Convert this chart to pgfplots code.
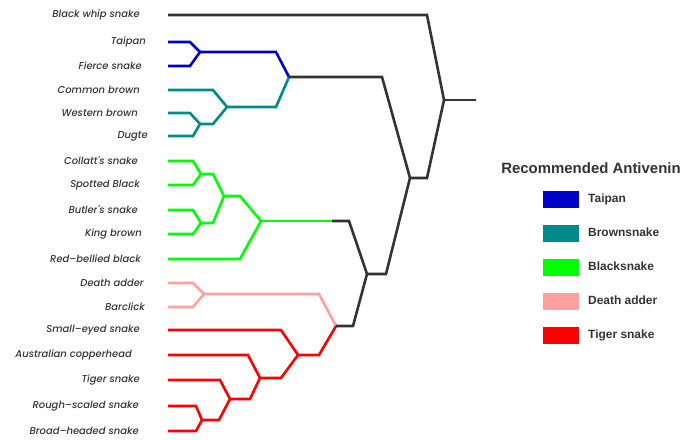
\documentclass[border=0pt]{standalone}
\usepackage{pgfplots}
\pgfplotsset{compat=1.18}
\usepackage{fontspec}
\setmainfont{Liberation Sans}
\newfontfamily\leaffont{Poppins Medium Italic}
\definecolor{dark}{HTML}{333333}
\definecolor{taipan}{HTML}{0000CC}
\definecolor{brownsnake}{HTML}{008B8B}
\definecolor{blacksnake}{HTML}{00FF00}
\definecolor{adder}{HTML}{FFA0A0}
\definecolor{tiger}{HTML}{FF0000}
\tikzset{leaf/.style={anchor=east, text=dark, inner sep=0pt,
  font=\leaffont\fontsize{10}{12}\selectfont}}
\begin{document}
\begin{tikzpicture}
\begin{axis}[
  name=ax,
  scale only axis, width=696bp, height=440bp,
  xmin=0, xmax=696, ymin=0, ymax=440, y dir=reverse,
  hide axis, clip=false,
  every axis plot/.append style={line width=2.6bp, line join=miter},
  legend image code/.code={\fill[#1, draw=none] (0bp,-8.5bp) rectangle (36bp,8.5bp);},
  legend style={at={(axis cs:543,190.5)}, anchor=north west, draw=none, fill=none,
    font=\bfseries\fontsize{12}{14}\selectfont, text=dark,
    row sep=17bp, column sep=6bp, inner sep=0pt,
    nodes={inner sep=3bp}},
  legend cell align=left,
]
% leaf labels
\node[leaf] at (axis cs:140,15) {Black whip snake};
\node[leaf] at (axis cs:146,42) {Taipan};
\node[leaf] at (axis cs:142,66) {Fierce snake};
\node[leaf] at (axis cs:140,90) {Common brown};
\node[leaf] at (axis cs:138,113) {Western brown};
\node[leaf] at (axis cs:148,136) {Dugte};
\node[leaf] at (axis cs:138,161) {Collatt's snake};
\node[leaf] at (axis cs:140,185) {Spotted Black};
\node[leaf] at (axis cs:138,210) {Butler's snake};
\node[leaf] at (axis cs:142,234) {King brown};
\node[leaf] at (axis cs:141,259) {Red–bellied black};
\node[leaf] at (axis cs:144,283) {Death adder};
\node[leaf] at (axis cs:145,307) {Barclick};
\node[leaf] at (axis cs:140,330) {Small–eyed snake};
\node[leaf] at (axis cs:132,355) {Australian copperhead};
\node[leaf] at (axis cs:140,380) {Tiger snake};
\node[leaf] at (axis cs:139,406) {Rough–scaled snake};
\node[leaf] at (axis cs:139,431) {Broad–headed snake};

% legend swatches
\addlegendimage{fill=taipan}\addlegendentry{Taipan}
\addlegendimage{fill=brownsnake}\addlegendentry{Brownsnake}
\addlegendimage{fill=blacksnake}\addlegendentry{Blacksnake}
\addlegendimage{fill=adder}\addlegendentry{Death adder}
\addlegendimage{fill=tiger}\addlegendentry{Tiger snake}

% Taipan clade
\addplot[taipan, forget plot] coordinates {(168,42)(190,42)(200,52)};
\addplot[taipan, forget plot] coordinates {(168,66)(190,66)(200,52)};
\addplot[taipan, forget plot] coordinates {(200,52)(276,52)(289,77)};
% Brownsnake clade
\addplot[brownsnake, forget plot] coordinates {(168,90)(213,90)(227,107)};
\addplot[brownsnake, forget plot] coordinates {(168,113)(190,113)(200,124)};
\addplot[brownsnake, forget plot] coordinates {(168,136)(193,136)(200,124)};
\addplot[brownsnake, forget plot] coordinates {(200,124)(213,124)(227,107)};
\addplot[brownsnake, forget plot] coordinates {(227,107)(276,107)(289,77)};
% Blacksnake clade
\addplot[blacksnake, forget plot] coordinates {(168,161)(193,161)(201,174)};
\addplot[blacksnake, forget plot] coordinates {(168,185)(193,185)(201,174)};
\addplot[blacksnake, forget plot] coordinates {(201,174)(213,174)(224,196)};
\addplot[blacksnake, forget plot] coordinates {(168,210)(193,210)(201,223)};
\addplot[blacksnake, forget plot] coordinates {(168,234)(193,234)(201,223)};
\addplot[blacksnake, forget plot] coordinates {(201,223)(213,223)(224,196)};
\addplot[blacksnake, forget plot] coordinates {(224,196)(240,196)(261,221)};
\addplot[blacksnake, forget plot] coordinates {(168,259)(240,259)(261,221)};
\addplot[blacksnake, forget plot] coordinates {(261,221)(333,221)};
% Death adder clade
\addplot[adder, forget plot] coordinates {(168,283)(193,283)(204,294)};
\addplot[adder, forget plot] coordinates {(168,307)(193,307)(204,294)};
\addplot[adder, forget plot] coordinates {(204,294)(319,294)(336,326)};
% Tiger snake clade
\addplot[tiger, forget plot] coordinates {(168,330)(281,330)(298,355)};
\addplot[tiger, forget plot] coordinates {(168,355)(248,355)(260,378)};
\addplot[tiger, forget plot] coordinates {(168,380)(220,380)(230,399)};
\addplot[tiger, forget plot] coordinates {(168,406)(196,406)(202,420)};
\addplot[tiger, forget plot] coordinates {(168,431)(196,431)(202,420)};
\addplot[tiger, forget plot] coordinates {(202,420)(219,420)(230,399)};
\addplot[tiger, forget plot] coordinates {(230,399)(250,399)(260,378)};
\addplot[tiger, forget plot] coordinates {(260,378)(281,378)(298,355)};
\addplot[tiger, forget plot] coordinates {(298,355)(319,355)(336,326)};
% backbone
\addplot[dark, forget plot] coordinates {(168,15)(427,15)(444,100)};
\addplot[dark, forget plot] coordinates {(289,77)(382,77)(410,178)};
\addplot[dark, forget plot] coordinates {(332,221)(349,221)(367,274)};
\addplot[dark, forget plot] coordinates {(336,326)(353,326)(367,274)};
\addplot[dark, forget plot] coordinates {(367,274)(386,274)(410,178)};
\addplot[dark, forget plot] coordinates {(410,178)(427,178)(444,100)};
\addplot[dark, forget plot] coordinates {(444,100)(476,100)};

\node[text=dark, font=\bfseries\fontsize{15}{17}\selectfont] at (axis cs:591,168) {Recommended Antivenin};
\end{axis}
\pgfresetboundingbox
\path (ax.south west) rectangle (ax.north east);
\end{tikzpicture}
\end{document}
